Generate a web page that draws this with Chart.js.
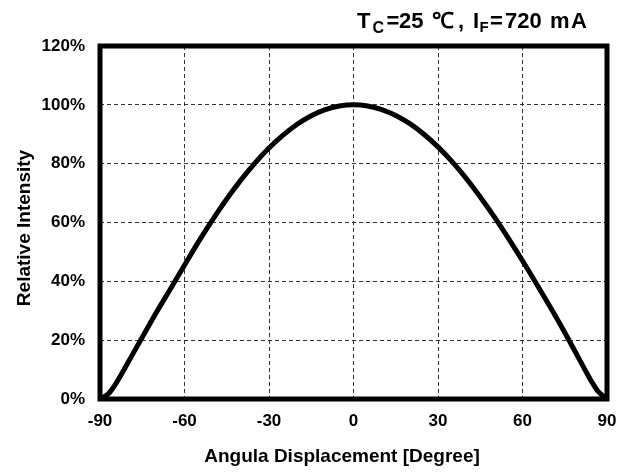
<!DOCTYPE html>
<html>
<head>
<meta charset="utf-8">
<script src="https://cdn.jsdelivr.net/npm/chart.js@4"></script>
<style>
  html, body { margin: 0; padding: 0; background: #fff; }
</style>
</head>
<body>
<canvas id="beamChart" width="620" height="472"></canvas>
<script>
// angular distribution
const angles = [-90, -87, -85, -83, -80, -75, -70, -65, -60, -55, -50, -45, -40, -35, -30, -25, -20, -15, -10, -5,
  0, 5, 10, 15, 20, 25, 30, 35, 40, 45, 50, 55, 60, 65, 70, 75, 80, 83, 85, 87, 90];
const intensity = [0, 1.8, 4.3, 7.4, 12.5, 21, 29.4, 37.4, 45.5, 53.5, 61, 68, 74.4, 80.2, 85.3, 89.7, 93.4, 96.3, 98.4, 99.6,
  100, 99.6, 98.4, 96.4, 93.6, 90, 85.7, 80.7, 75, 68.7, 61.9, 54.6, 47, 39.1, 31, 22.6, 13.8, 8.5, 5.2, 2.4, 0];
const xTicks = [-90, -60, -30, 0, 30, 60, 90];
const yTicks = [0, 20, 40, 60, 80, 100, 120];

const FONT = "'Liberation Sans', Arial, sans-serif";

// header pieces: text, x, baseline, size
const header = [
  ['T', 357, 28, 22], ['C', 372.5, 33, 16], ['=', 386.5, 28, 22], ['25', 399, 28, 22],
  ['\u2103', 432, 28, 22], [',', 458, 28, 22], ['I', 473, 28, 22], ['F', 479.5, 32, 15],
  ['=', 490, 28, 22], ['720', 505, 28, 22], ['m', 550, 28, 22], ['A', 571, 28, 22]
];

const framePlugin = {
  id: 'frame',
  afterDraw(chart) {
    const { ctx, chartArea: a } = chart;
    ctx.save();
    ctx.strokeStyle = '#000';
    ctx.lineWidth = 5;
    ctx.strokeRect(a.left, a.top, a.right - a.left, a.bottom - a.top);

    ctx.fillStyle = '#000';
    ctx.textAlign = 'center';
    ctx.textBaseline = 'alphabetic';
    ctx.font = 'bold 19px ' + FONT;
    ctx.fillText('Angula Displacement [Degree]', 342, 462);

    ctx.save();
    ctx.translate(29.5, 228);
    ctx.rotate(-Math.PI / 2);
    ctx.fillText('Relative Intensity', 0, 0);
    ctx.restore();

    ctx.textAlign = 'left';
    header.forEach(([t, x, y, s]) => {
      ctx.font = 'bold ' + s + 'px ' + FONT;
      ctx.fillText(t, x, y);
    });
    ctx.restore();
  }
};

new Chart(document.getElementById('beamChart'), {
  type: 'line',
  data: {
    datasets: [{
      data: angles.map((a, i) => ({ x: a, y: intensity[i] })),
      borderColor: '#000',
      borderWidth: 5,
      pointRadius: 0,
      cubicInterpolationMode: 'monotone',
      fill: false
    }]
  },
  options: {
    responsive: false,
    animation: false,
    layout: { padding: { top: 46, right: 13, left: 0, bottom: 0 } },
    plugins: { legend: { display: false }, tooltip: { enabled: false } },
    scales: {
      x: {
        type: 'linear',
        min: -90,
        max: 90,
        afterFit: s => { s.height = 73; s.paddingLeft = 0; s.paddingRight = 0; },
        afterBuildTicks: s => { s.ticks = xTicks.map(v => ({ value: v })); },
        grid: { color: '#333', lineWidth: 1, drawTicks: false },
        border: { display: false, dash: [4, 3] },
        ticks: { color: '#000', padding: 12, font: { family: FONT, size: 17, weight: 'bold' } }
      },
      y: {
        min: 0,
        max: 120,
        afterFit: s => { s.width = 100; s.paddingTop = 0; s.paddingBottom = 0; },
        afterBuildTicks: s => { s.ticks = yTicks.map(v => ({ value: v })); },
        grid: { color: '#333', lineWidth: 1, drawTicks: false },
        border: { display: false, dash: [4, 3] },
        ticks: {
          color: '#000', padding: 15,
          font: { family: FONT, size: 17, weight: 'bold' },
          callback: v => v + '%'
        }
      }
    }
  },
  plugins: [framePlugin]
});
</script>
</body>
</html>
